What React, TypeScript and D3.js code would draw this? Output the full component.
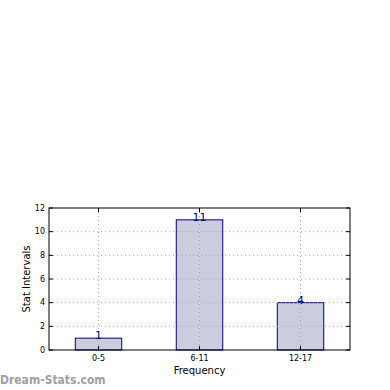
import * as d3 from 'd3';

const categories = ['0-5', '6-11', '12-17'];
const counts = [1, 11, 4];
const yTicks = [0, 2, 4, 6, 8, 10, 12];

const W = 390;
const H = 390;
const M = { top: 208, right: 40, bottom: 40, left: 49 };
const FONT = 'DejaVu Sans, sans-serif';

export default function App() {
  const innerW = W - M.left - M.right;
  const innerH = H - M.top - M.bottom;

  const x = d3.scaleBand<string>().domain(categories).range([0, innerW])
    .paddingInner(0.54).paddingOuter(0.26);
  const y = d3.scaleLinear().domain([0, 12]).range([innerH, 0]);
  const cx = (c: string) => (x(c) ?? 0) + x.bandwidth() / 2;

  return (
    <svg width={W} height={H} style={{ position: 'absolute', left: 0, top: 0, background: '#fff' }}>
      <g transform={`translate(${M.left},${M.top})`}>
        {/* bars */}
        {categories.map((c, i) => (
          <rect key={c} x={x(c)} y={y(counts[i])} width={x.bandwidth()} height={innerH - y(counts[i])}
            fill="#ccccdf" stroke="#000080" strokeWidth={1} />
        ))}

        {/* grid */}
        {yTicks.slice(1, -1).map(t => (
          <line key={`gy${t}`} x1={0} x2={innerW} y1={y(t)} y2={y(t)}
            stroke="#aaaaaa" strokeDasharray="1,3" strokeWidth={1} />
        ))}
        {categories.map(c => (
          <line key={`gx${c}`} x1={cx(c)} x2={cx(c)} y1={0} y2={innerH}
            stroke="#aaaaaa" strokeDasharray="1,3" strokeWidth={1} />
        ))}

        {/* value labels */}
        {categories.map((c, i) => (
          <text key={`v${c}`} x={cx(c)} y={y(counts[i]) + 1} textAnchor="middle"
            fontFamily={FONT} fontSize={11} fill="#000080">{counts[i]}</text>
        ))}

        {/* frame */}
        <rect x={0} y={0} width={innerW} height={innerH} fill="none" stroke="#000" strokeWidth={1} />

        {/* y ticks */}
        {yTicks.map(t => (
          <g key={`yt${t}`} transform={`translate(0,${y(t)})`}>
            <line x1={0} x2={4} stroke="#000" />
            <line x1={innerW} x2={innerW - 4} stroke="#000" />
            <text x={-4} dy="0.35em" textAnchor="end" fontFamily={FONT} fontSize={8} fill="#000">{t}</text>
          </g>
        ))}

        {/* x ticks */}
        {categories.map(c => (
          <g key={`xt${c}`} transform={`translate(${cx(c)},0)`}>
            <line y1={innerH} y2={innerH - 4} stroke="#000" />
            <line y1={0} y2={4} stroke="#000" />
            <text y={innerH + 11} textAnchor="middle" fontFamily={FONT} fontSize={8} fill="#000">{c}</text>
          </g>
        ))}

        <text x={innerW / 2} y={innerH + 24} textAnchor="middle" fontFamily={FONT} fontSize={10} fill="#000">Frequency</text>
        <text transform={`translate(-19,${innerH / 2}) rotate(-90)`} textAnchor="middle"
          fontFamily={FONT} fontSize={10} fill="#000">Stat Intervals</text>
      </g>

      {/* watermark */}
      <text x={0} y={384} fontFamily="DejaVu Sans Condensed, DejaVu Sans, sans-serif" fontSize={12}
        fontWeight="bold" fill="#a0a0a0">Dream-Stats.com</text>
    </svg>
  );
}
